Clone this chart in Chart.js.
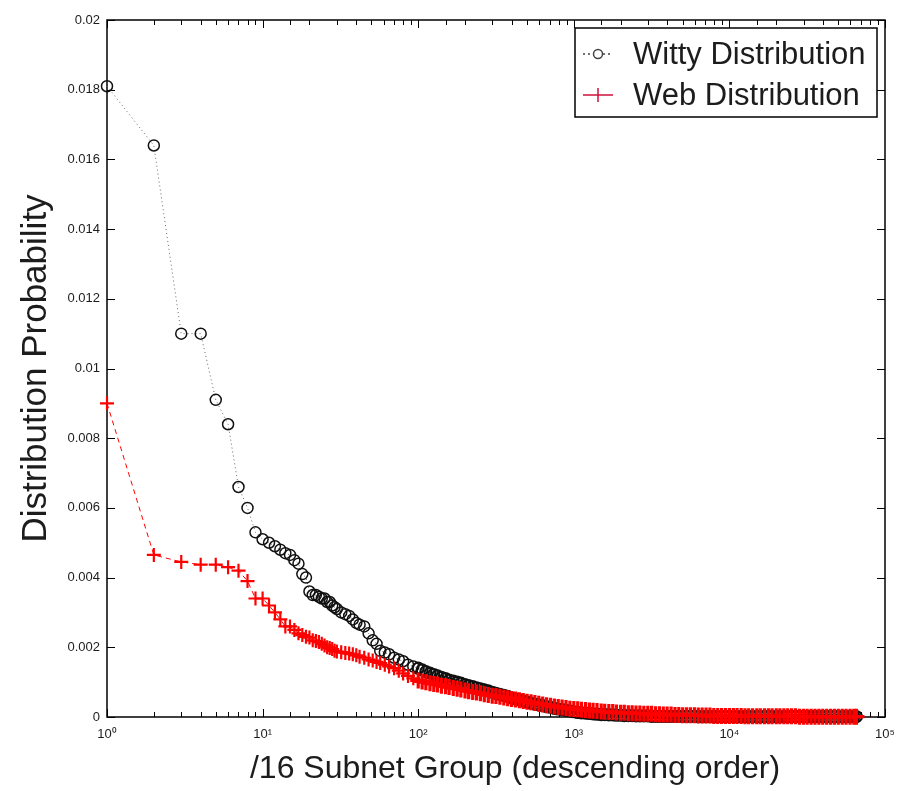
<!DOCTYPE html>
<html>
<head>
<meta charset="utf-8">
<script src="https://cdn.jsdelivr.net/npm/chart.js@4/dist/chart.umd.min.js"></script>
<style>
  html, body { margin: 0; padding: 0; background: #fff; }
  #wrap { width: 905px; height: 791px; }
</style>
</head>
<body>
<div id="wrap"><canvas id="distChart" width="905" height="791"></canvas></div>
<script>
// rank of the /16 subnet group (descending order)
const ranks = [
    1, 2, 3, 4, 5, 6, 7, 8, 9, 10, 11, 12, 13, 14, 15, 16, 17, 18, 19, 20,
    21, 22, 23, 24, 25, 26, 27, 28, 29, 30,
    32, 34, 36, 38, 40, 42, 45, 48, 51, 54, 57, 61, 65, 70, 75, 80, 86, 93,
    100, 106, 112, 119, 126, 133, 141, 150, 158, 168,
    178, 188, 200, 211, 224, 237, 251, 266, 282, 299,
    316, 335, 355, 376, 398, 422, 447, 473, 501, 531,
    562, 596, 631, 668, 708, 750, 794, 841, 891, 944,
    1000, 1060, 1120, 1190, 1260, 1330, 1410, 1500, 1580, 1680,
    1780, 1880, 2000, 2110, 2240, 2370, 2510, 2660, 2820, 2990,
    3160, 3350, 3550, 3760, 3980, 4220, 4470, 4730, 5010, 5310,
    5620, 5960, 6310, 6680, 7080, 7500, 7940, 8410, 8910, 9440,
    10000, 10600, 11200, 11900, 12600, 13300, 14100, 15000, 15800, 16800,
    17800, 18800, 20000, 21100, 22400, 23700, 25100, 26600, 28200, 29900,
    31600, 33500, 35500, 37600, 39800, 42200, 44700, 47300, 50100, 53100,
    56200, 59600, 63100, 65536
];

const wittyProb = [
    0.0181, 0.0164, 0.0110, 0.0110, 0.0091, 0.0084, 0.0066, 0.0060, 0.0053, 0.0051,
    0.0050, 0.0049, 0.0048, 0.0047, 0.00465, 0.0045, 0.0044, 0.0041, 0.0040, 0.0036,
    0.0035, 0.0035, 0.00345, 0.0034, 0.0034, 0.0033, 0.0033, 0.0032, 0.00315, 0.0031,
    0.0030, 0.00295, 0.0029, 0.0028, 0.0027, 0.00265, 0.0026, 0.0024, 0.0022, 0.0021,
    0.0019, 0.00185, 0.0018, 0.0017, 0.00165, 0.0016, 0.0015, 0.00145,
    0.0014, 0.00135, 0.0013, 0.00126, 0.00122, 0.00118, 0.00114, 0.0011, 0.00106, 0.00103,
    0.001, 0.00097, 0.00093, 0.0009, 0.00087, 0.00084, 0.00081, 0.00078, 0.00075, 0.00071,
    0.00068, 0.00065, 0.00062, 0.00059, 0.00055, 0.00052, 0.00049, 0.00046, 0.00043, 0.0004,
    0.00037, 0.00035, 0.00033, 0.0003, 0.00028, 0.00025, 0.00023, 0.00021, 0.00019, 0.00017,
    0.00015, 0.00013, 0.00012, 0.00011, 0.0001, 0.00009, 0.00008, 0.00007, 0.00007, 0.00006,
    0.00006, 0.00005, 0.00005, 0.00004, 0.00004, 0.00004, 0.00003, 0.00003, 0.00003, 0.00003,
    0.00002, 0.00002, 0.00002, 0.00002, 0.00002, 0.00002, 0.00002, 0.00002, 0.00002, 0.00002,
    0.00002, 0.00002, 0.00001, 0.00001, 0.00001, 0.00001, 0.00001, 0.00001, 0.00001, 0.00001,
    0.00001, 0.00001, 0.00001, 0.00001, 0.00001, 0.00001, 0.00001, 0.00001, 0.00001, 0.00001,
    0.00001, 0.00001, 0.00001, 0.00001, 0.00001, 0.00001, 0.00001, 0.00001, 0.00001, 0.00001,
    0.00001, 0.00001, 0.00001, 0.00001, 0.00001, 0.00001, 0.00001, 0.00001, 0.00001, 0.00001,
    0.00001, 0.00001, 0.00001, 0.00001
];

const webProb = [
    0.0090, 0.00465, 0.00445, 0.00437, 0.00437, 0.0043, 0.0042, 0.0039, 0.0034, 0.0034,
    0.0032, 0.0030, 0.0028, 0.0026, 0.0026, 0.0025, 0.0024, 0.00235, 0.0023, 0.00228,
    0.0022, 0.00218, 0.00215, 0.0021, 0.00205, 0.002, 0.00198, 0.00195, 0.0019, 0.00188,
    0.00186, 0.00184, 0.00182, 0.0018, 0.00177, 0.00173, 0.0017, 0.00165, 0.00162, 0.00158,
    0.00155, 0.0015, 0.00145, 0.0014, 0.00133, 0.00125, 0.00118, 0.00111,
    0.00105, 0.00102, 0.001, 0.00097, 0.00095, 0.00093, 0.0009, 0.00088, 0.00086, 0.00083,
    0.00081, 0.00079, 0.00076, 0.00074, 0.00072, 0.0007, 0.00068, 0.00065, 0.00063, 0.00061,
    0.0006, 0.00058, 0.00056, 0.00054, 0.00052, 0.0005, 0.00048, 0.00046, 0.00044, 0.00042,
    0.0004, 0.00038, 0.00036, 0.00034, 0.00032, 0.0003, 0.00029, 0.00027, 0.00026, 0.00024,
    0.00023, 0.00022, 0.00021, 0.0002, 0.00019, 0.00018, 0.00017, 0.00016, 0.00015, 0.00014,
    0.00014, 0.00013, 0.00012, 0.00012, 0.00011, 0.00011, 0.0001, 0.0001, 0.00009, 0.00009,
    0.00009, 0.00008, 0.00008, 0.00007, 0.00007, 0.00007, 0.00006, 0.00006, 0.00005, 0.00005,
    0.00005, 0.00005, 0.00004, 0.00004, 0.00004, 0.00004, 0.00003, 0.00003, 0.00003, 0.00003,
    0.00003, 0.00003, 0.00003, 0.00003, 0.00002, 0.00002, 0.00002, 0.00002, 0.00002, 0.00002,
    0.00002, 0.00002, 0.00002, 0.00002, 0.00002, 0.00002, 0.00002, 0.00002, 0.00001, 0.00001,
    0.00001, 0.00001, 0.00001, 0.00001, 0.00001, 0.00001, 0.00001, 0.00001, 0.00001, 0.00001,
    0.00001, 0.00001, 0.00001, 0.00001
];

const seriesNames = ['Witty Distribution', 'Web Distribution'];
const xTitle = '/16 Subnet Group (descending order)';
const yTitle = 'Distribution Probability';
const yTicks = [0, 0.002, 0.004, 0.006, 0.008, 0.01, 0.012, 0.014, 0.016, 0.018, 0.02];
const xDecades = [1, 10, 100, 1000, 10000, 100000];

const FONT = "'Liberation Sans', Arial, sans-serif";
const TEXT = '#1c1c1c';
const RED = '#ff0000';

const SUP = ['⁰', '¹', '²', '³', '⁴', '⁵'];
const isDecade = v => xDecades.some(d => Math.abs(v - d) < 1e-6 * d);
// markers get heavier where ranks crowd together
const dense = c => c.raw && c.raw.x >= 100;

// box frame with inward ticks on all four sides
const frameTicks = {
    id: 'frameTicks',
    beforeDatasetsDraw(chart) {
        const { ctx, chartArea: a, scales: { x, y } } = chart;
        ctx.save();
        ctx.strokeStyle = '#000';
        ctx.lineWidth = 1;
        ctx.beginPath();
        x.ticks.forEach(t => {
            const px = Math.round(x.getPixelForValue(t.value)) + 0.5;
            const len = isDecade(t.value) ? 8 : 5;
            ctx.moveTo(px, a.bottom); ctx.lineTo(px, a.bottom - len);
            ctx.moveTo(px, a.top); ctx.lineTo(px, a.top + len);
        });
        yTicks.forEach(v => {
            const py = Math.round(y.getPixelForValue(v)) + 0.5;
            ctx.moveTo(a.left, py); ctx.lineTo(a.left + 8, py);
            ctx.moveTo(a.right, py); ctx.lineTo(a.right - 8, py);
        });
        ctx.stroke();
        ctx.lineWidth = 1.5;
        ctx.strokeRect(a.left, a.top, a.right - a.left, a.bottom - a.top);
        ctx.restore();
    }
};

// legend box in the upper right corner, x axis title below the ticks
const boxLegend = {
    id: 'boxLegend',
    afterDatasetsDraw(chart) {
        const { ctx, chartArea: a } = chart;
        const w = 302, h = 89;
        const left = a.right - 8 - w, top = a.top + 8;
        ctx.save();
        ctx.fillStyle = '#fff';
        ctx.fillRect(left, top, w, h);
        ctx.strokeStyle = '#000';
        ctx.lineWidth = 1.5;
        ctx.strokeRect(left, top, w, h);

        const rows = [top + 26, top + 67];
        const sx = left + 8, ex = left + 38, mx = left + 23;
        // witty sample: dotted line with circle
        ctx.strokeStyle = '#444';
        ctx.lineWidth = 1.5;
        ctx.setLineDash([2, 3]);
        ctx.beginPath(); ctx.moveTo(sx, rows[0]); ctx.lineTo(ex, rows[0]); ctx.stroke();
        ctx.setLineDash([]);
        ctx.fillStyle = '#fff';
        ctx.beginPath(); ctx.arc(mx, rows[0], 4.5, 0, Math.PI * 2); ctx.fill(); ctx.stroke();
        // web sample: red line with plus
        ctx.strokeStyle = '#d0103a';
        ctx.lineWidth = 1.5;
        ctx.beginPath();
        ctx.moveTo(sx, rows[1]); ctx.lineTo(ex, rows[1]);
        ctx.moveTo(mx, rows[1] - 7); ctx.lineTo(mx, rows[1] + 7);
        ctx.stroke();

        ctx.fillStyle = TEXT;
        ctx.font = '31px ' + FONT;
        ctx.textBaseline = 'middle';
        ctx.fillText(seriesNames[0], left + 58, rows[0] + 1);
        ctx.fillText(seriesNames[1], left + 58, rows[1] + 1);

        ctx.font = '32px ' + FONT;
        ctx.textAlign = 'center';
        ctx.fillText(xTitle, (a.left + a.right) / 2 + 19, a.bottom + 52);
        ctx.restore();
    }
};

new Chart(document.getElementById('distChart').getContext('2d'), {
    type: 'line',
    data: {
        datasets: [
            {
                label: seriesNames[0],
                data: ranks.map((r, i) => ({ x: r, y: wittyProb[i] })),
                borderColor: '#666',
                borderWidth: 1,
                borderDash: [1, 3],
                pointStyle: 'circle',
                pointRadius: 5.5,
                pointBorderWidth: c => dense(c) ? 2.2 : 1.5,
                pointBorderColor: '#111',
                pointBackgroundColor: 'rgba(255,255,255,0)',
                clip: false,
                order: 2
            },
            {
                label: seriesNames[1],
                data: ranks.map((r, i) => ({ x: r, y: webProb[i] })),
                borderColor: RED,
                borderWidth: 1,
                borderDash: [5, 4],
                pointStyle: 'cross',
                pointRadius: c => dense(c) ? 8 : 7,
                pointBorderWidth: c => dense(c) ? 3.2 : 2.2,
                pointBorderColor: RED,
                pointBackgroundColor: RED,
                clip: false,
                order: 1
            }
        ]
    },
    options: {
        responsive: false,
        animation: false,
        events: [],
        layout: { padding: { top: 20, right: 20, left: 0, bottom: 0 } },
        plugins: {
            legend: { display: false },
            tooltip: { enabled: false }
        },
        scales: {
            x: {
                type: 'logarithmic',
                min: 1,
                max: 100000,
                grid: { display: false, drawTicks: false },
                border: { display: false },
                ticks: {
                    autoSkip: false,
                    maxRotation: 0,
                    padding: 10,
                    color: TEXT,
                    font: { family: FONT, size: 13 },
                    callback: v => isDecade(v) ? '10' + SUP[Math.round(Math.log10(v))] : ''
                },
                afterFit: s => { s.height = 74; }
            },
            y: {
                min: 0,
                max: 0.02,
                afterBuildTicks: s => { s.ticks = yTicks.map(v => ({ value: v })); },
                grid: { display: false, drawTicks: false },
                border: { display: false },
                ticks: {
                    padding: 7,
                    color: TEXT,
                    font: { family: FONT, size: 13 },
                    callback: v => String(Number(v.toFixed(3)))
                },
                title: {
                    display: true,
                    text: yTitle,
                    color: TEXT,
                    font: { family: FONT, size: 35 },
                    padding: { top: 15, bottom: 0 }
                },
                afterFit: s => { s.width = 107; }
            }
        }
    },
    plugins: [frameTicks, boxLegend]
});
</script>
</body>
</html>
